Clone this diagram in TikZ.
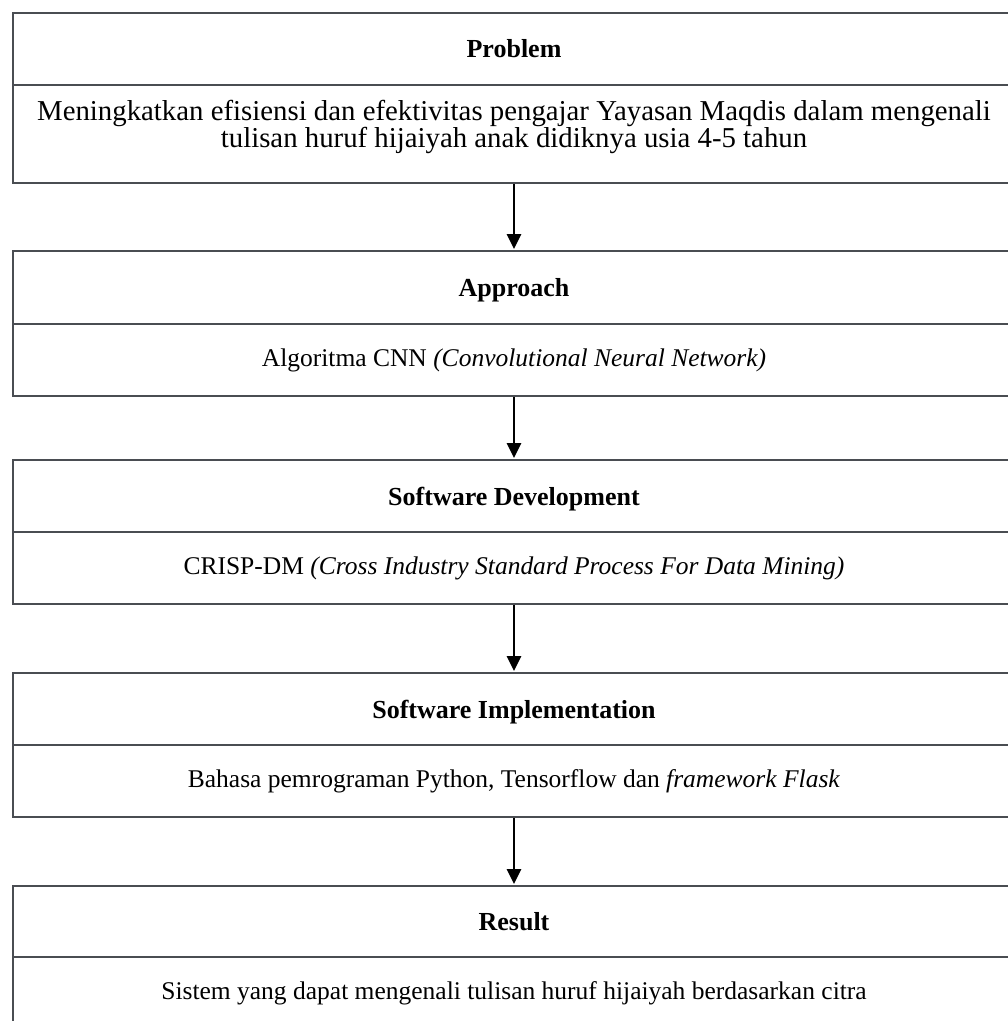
\documentclass[tikz,border=0pt]{standalone}
\usepackage{fontspec}
\setmainfont{Liberation Serif}
\usetikzlibrary{arrows.meta}
\definecolor{boxline}{HTML}{4A4D52}
\tikzset{
  x=1pt,y=1pt,
  hdr/.style={draw=boxline, line width=2pt, minimum width=1002pt, anchor=north west,
    inner sep=0pt, font=\fontsize{26}{30}\selectfont\bfseries},
  hdrtext/.style={font=\fontsize{26}{30}\selectfont\bfseries, inner sep=0pt, yshift=-3pt},
  bdy/.style={draw=boxline, line width=2pt, minimum width=1002pt, anchor=north west,
    inner sep=0pt, align=center, font=\fontsize{25.5}{29}\selectfont},
  bigtext/.style={align=center, font=\fontsize{28.8}{27.5}\selectfont, inner sep=0pt},
  flow/.style={line width=2.8pt, black, -{Triangle[width=14pt,length=15pt]}, shorten >=1pt}
}
\begin{document}
\begin{tikzpicture}
\useasboundingbox (0,0) rectangle (1008,-1021);
\fill[white] (0,0) rectangle (1008,-1021);
% Box 1
\node[hdr, minimum height=72pt] (h1) at (12,-12) {Problem};
\node[bdy, minimum height=98pt,
  label={[bigtext, yshift=7pt]center:Meningkatkan efisiensi dan efektivitas pengajar Yayasan Maqdis dalam mengenali\\tulisan huruf hijaiyah anak didiknya usia 4-5 tahun}] (b1) at (12,-84) {};
% Box 2
\node[hdr, minimum height=73pt, label={[hdrtext]center:Approach}] (h2) at (12,-250) {};
\node[bdy, minimum height=72pt] (b2) at (12,-323) {Algoritma CNN \textit{(Convolutional Neural Network)}};
% Box 3
\node[hdr, minimum height=72pt, label={[hdrtext]center:Software Development}] (h3) at (12,-459) {};
\node[bdy, minimum height=72pt] (b3) at (12,-531) {CRISP-DM \textit{(Cross Industry Standard Process For Data Mining)}};
% Box 4
\node[hdr, minimum height=72pt, label={[hdrtext]center:Software Implementation}] (h4) at (12,-672) {};
\node[bdy, minimum height=72pt] (b4) at (12,-744) {Bahasa pemrograman Python, Tensorflow dan \textit{framework Flask}};
% Box 5
\node[hdr, minimum height=71pt] (h5) at (12,-885) {Result};
\node[bdy, minimum height=72pt] (b5) at (12,-956) {Sistem yang dapat mengenali tulisan huruf hijaiyah berdasarkan citra};
% arrows
\draw[flow] (b1.south) -- (h2.north);
\draw[flow] (b2.south) -- (h3.north);
\draw[flow] (b3.south) -- (h4.north);
\draw[flow] (b4.south) -- (h5.north);
\end{tikzpicture}
\end{document}
